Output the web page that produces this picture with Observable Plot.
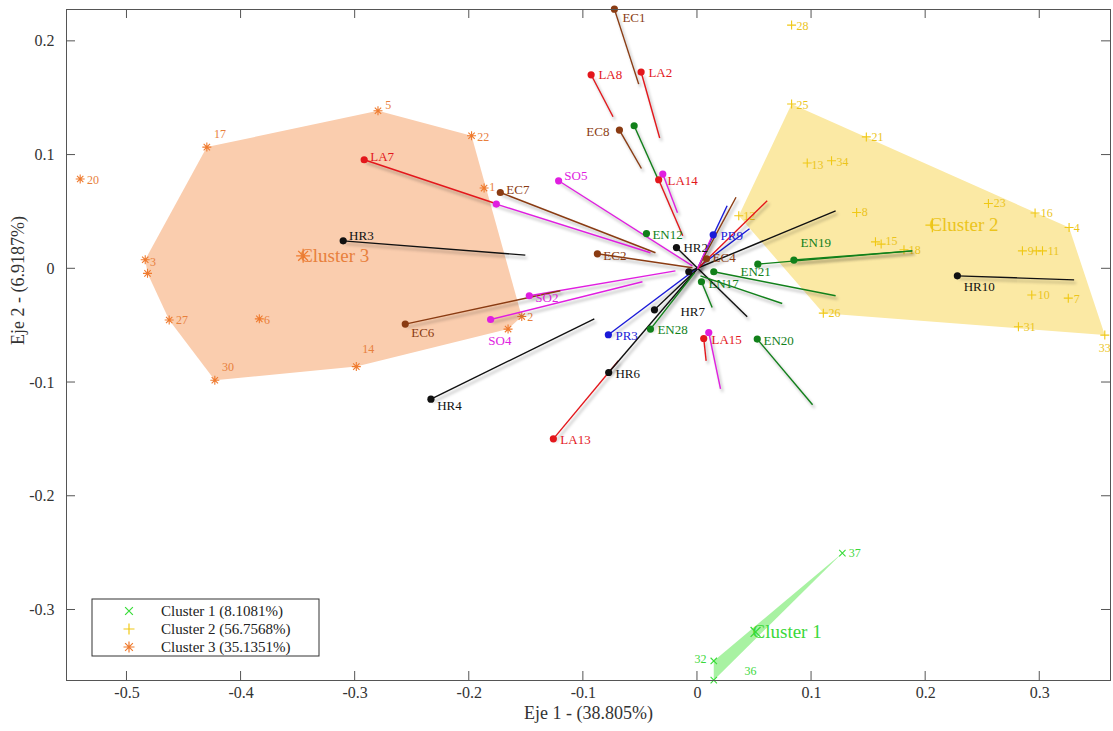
<!DOCTYPE html>
<html><head><meta charset="utf-8">
<script src="https://cdn.jsdelivr.net/npm/d3@7"></script>
<script src="https://cdn.jsdelivr.net/npm/@observablehq/plot@0.6"></script>
<style>
body{margin:0;background:#fff;}
#chart{width:1113px;height:731px;}
.vec path{filter:drop-shadow(2px 3px 1.5px rgba(0,0,0,0.32));}
</style></head><body><div id="chart"></div>
<script>
// ---------- data ----------
const xTicks = [-0.5,-0.4,-0.3,-0.2,-0.1,0,0.1,0.2,0.3];
const yTicks = [-0.3,-0.2,-0.1,0,0.1,0.2];
const xLabel = "Eje 1 - (38.805%)";
const yLabel = "Eje 2 - (6.9187%)";

const clusterNames = ["Cluster 1","Cluster 2","Cluster 3"];
const clusterShares = ["8.1081%","56.7568%","35.1351%"];

// [id, label, x, y, labelX, labelY]
const cluster1 = [
  ["37","37",0.127,-0.250,0.1325,-0.2498],
  ["32","32",0.0143,-0.3448,-0.0026,-0.343],
  ["36","36",0.0143,-0.3617,0.0412,-0.3536]
];
const cluster2 = [
  ["28","28",0.0825,0.2143,0.0868,0.2137],
  ["25","25",0.0825,0.1449,0.0868,0.1442],
  ["21","21",0.148,0.116,0.1526,0.1161],
  ["13","13",0.0962,0.093,0.1,0.0915],
  ["34","34",0.1175,0.095,0.1219,0.0941],
  ["8","8",0.1395,0.0495,0.1439,0.0501],
  ["23","23",0.255,0.0574,0.2596,0.058],
  ["16","16",0.2959,0.049,0.3009,0.0493],
  ["4","4",0.3257,0.0363,0.3298,0.0361],
  ["15","15",0.161,0.0217,0.1649,0.0246],
  ["u2a","",0.156,0.0237,null,null],
  ["18","18",0.181,0.0167,0.1851,0.0167],
  ["9","9",0.2848,0.0158,0.2895,0.0158],
  ["u2b","",0.297,0.0158,null,null],
  ["11","11",0.3024,0.0158,0.307,0.0158],
  ["10","10",0.293,-0.0231,0.2982,-0.0229],
  ["7","7",0.325,-0.0258,0.3298,-0.0264],
  ["31","31",0.2813,-0.051,0.286,-0.051],
  ["33","33",0.357,-0.0583,0.3518,-0.0695],
  ["26","26",0.1103,-0.039,0.1149,-0.0387],
  ["12","12",0.0362,0.0466,0.0404,0.0466]
];
const cluster3 = [
  ["20","20",-0.541,0.079,-0.5351,0.0783],
  ["17","17",-0.430,0.107,-0.4237,0.1187],
  ["5","5",-0.280,0.139,-0.2737,0.1442],
  ["22","22",-0.198,0.117,-0.193,0.1161],
  ["1","1",-0.187,0.071,-0.1825,0.0721],
  ["3","3",-0.484,0.008,-0.4798,0.0062],
  ["u3a","",-0.482,-0.004,null,null],
  ["27","27",-0.463,-0.045,-0.457,-0.0449],
  ["6","6",-0.384,-0.044,-0.3798,-0.0449],
  ["30","30",-0.423,-0.098,-0.4167,-0.0862],
  ["14","14",-0.299,-0.086,-0.2939,-0.0704],
  ["2","2",-0.154,-0.042,-0.1491,-0.0422],
  ["u3b","",-0.166,-0.053,null,null]
];
const hull1 = ["37","32","36"];
const hull2 = ["25","4","33","26","12"];
const hull3 = ["17","5","22","2","u3b","14","30","27","u3a","3"];
const centroids = [[0.0509,-0.3193],[0.2059,0.0384],[-0.3456,0.0114]];

// variables: [name, group, x, y, labelX, labelY]
const variables = [
  ["EC1","EC",-0.0728,0.2283,-0.0658,0.2208],
  ["LA8","LA",-0.0932,0.1706,-0.0868,0.1706],
  ["LA2","LA",-0.0494,0.173,-0.043,0.1724],
  ["EC8","EC",-0.0684,0.122,-0.0974,0.1205],
  ["","EN",-0.0555,0.1258,null,null],
  ["","SO",-0.0304,0.0833,null,null],
  ["LA14","LA",-0.034,0.0783,-0.0263,0.0774],
  ["SO5","SO",-0.1217,0.0774,-0.1167,0.0818],
  ["LA7","LA",-0.2921,0.0959,-0.2868,0.0985],
  ["EC7","EC",-0.1728,0.0671,-0.1675,0.0695],
  ["","SO",-0.1763,0.0569,null,null],
  ["HR3","HR",-0.3105,0.0246,-0.3053,0.029],
  ["EC2","EC",-0.0877,0.0132,-0.0825,0.0114],
  ["EN12","EN",-0.0447,0.031,-0.0395,0.0299],
  ["HR2","HR",-0.0184,0.0187,-0.0123,0.0185],
  ["PR9","PR",0.0138,0.0299,0.0202,0.029],
  ["EC4","EC",0.0079,0.0088,0.0132,0.0097],
  ["","HR",-0.0076,-0.0026,null,null],
  ["EN21","EN",0.0529,0.0041,0.0377,-0.0026],
  ["EN19","EN",0.0845,0.0077,0.0904,0.0229],
  ["","EN",0.0143,-0.0026,null,null],
  ["EN17","EN",0.0035,-0.0114,0.0096,-0.0132],
  ["SO2","SO",-0.1474,-0.0237,-0.1421,-0.0255],
  ["SO4","SO",-0.1813,-0.0446,-0.1833,-0.0633],
  ["EC6","EC",-0.2561,-0.0486,-0.2509,-0.0563],
  ["HR7","HR",-0.0377,-0.0361,-0.0149,-0.0378],
  ["EN28","EN",-0.0412,-0.053,-0.0351,-0.0536],
  ["PR3","PR",-0.0781,-0.058,-0.0719,-0.0589],
  ["LA15","LA",0.0055,-0.0613,0.0123,-0.0624],
  ["","SO",0.0099,-0.056,null,null],
  ["EN20","EN",0.0524,-0.0618,0.0579,-0.0633],
  ["HR6","HR",-0.0778,-0.0912,-0.0719,-0.0923],
  ["HR4","HR",-0.2336,-0.1146,-0.2281,-0.1205],
  ["LA13","LA",-0.1263,-0.1495,-0.1202,-0.1504],
  ["HR10","HR",0.2278,-0.0062,0.2333,-0.0158]
];
// segments: [group, x1, y1, x2, y2]
const segments = [
  ["EC",-0.0728,0.2283,-0.0515,0.1624],
  ["LA",-0.0932,0.1706,-0.074,0.1337],
  ["LA",-0.0494,0.173,-0.0331,0.115],
  ["EC",-0.0684,0.122,-0.0491,0.0882],
  ["EN",-0.0555,0.1258,-0.0351,0.08],
  ["LA",-0.034,0.0783,-0.0129,0.029],
  ["SO",-0.0304,0.0833,-0.0175,0.0493],
  ["SO",-0.1217,0.0774,-0.0044,0.0026],
  ["EC",-0.1728,0.0671,-0.0368,0.0141],
  ["SO",-0.1763,0.0569,-0.0412,0.0141],
  ["LA",-0.2921,0.0959,-0.1763,0.0572],
  ["HR",-0.3105,0.0246,-0.1509,0.012],
  ["EC",-0.0877,0.0132,-0.0044,0.0009],
  ["SO",-0.1474,-0.0237,-0.0193,-0.0018],
  ["SO",-0.1813,-0.0446,-0.0482,-0.0114],
  ["EC",-0.2561,-0.0486,-0.1202,-0.0193],
  ["HR",-0.2336,-0.1146,-0.0904,-0.044],
  ["LA",-0.1263,-0.1495,-0.0693,-0.0809],
  ["HR",-0.0778,-0.0912,0,0],
  ["PR",-0.0781,-0.058,0.0456,0.0352],
  ["PR",0,0,0.026,0.0554],
  ["HR",-0.0184,0.0187,0.0436,-0.0422],
  ["HR",-0.0076,-0.0026,0.1211,0.051],
  ["HR",-0.0377,-0.0361,-0.0018,-0.0018],
  ["EN",-0.0412,-0.053,-0.0026,-0.0035],
  ["EC",0,0,0.0338,0.0629],
  ["LA",0,0,0.0611,0.0598],
  ["SO",0,0,0.0129,0.029],
  ["EN",0.0529,0.0041,0.1883,0.0158],
  ["EN",0.0845,0.0077,0.1883,0.0158],
  ["EN",0.0143,-0.0026,0.1211,-0.0237],
  ["EN",0.0026,-0.0062,0.0743,-0.0305],
  ["EN",0.0035,-0.0114,0.0129,-0.034],
  ["EN",0.0524,-0.0618,0.1009,-0.1196],
  ["LA",0.0055,-0.0613,0.0076,-0.0809],
  ["SO",0.0099,-0.056,0.0202,-0.1055],
  ["HR",0.2278,-0.0062,0.3301,-0.0097]
];

// ---------- styles ----------
const groupColors = {LA:"#e3171c", EC:"#8a3b12", SO:"#e01ee0", EN:"#11801a", HR:"#111111", PR:"#1a1ad8"};
const clusterStroke = ["#38dc38","#f0c814","#ef7b2f"];
const clusterText = ["#3bd83b","#ebc41c","#e8803c"];
const clusterFill = ["#a8f2a2","#fbe9a4","#facdae"];
const FONT = "'Liberation Serif','Times New Roman',serif";

const lineSym = (angles) => ({draw(c, size){
  const r = Math.sqrt(size/Math.PI);
  for (const a of angles){ const dx=r*Math.cos(a), dy=r*Math.sin(a); c.moveTo(dx,dy); c.lineTo(-dx,-dy);}
}});
const symTimes = lineSym([Math.PI/4, -Math.PI/4]);
const symPlus = lineSym([0, Math.PI/2]);
const symStar = lineSym([0, Math.PI/4, Math.PI/2, 3*Math.PI/4]);
const symbols = [symTimes, symPlus, symStar];
const clusters = [cluster1, cluster2, cluster3];
const hulls = [hull1, hull2, hull3];

const marks = [];
// hull polygons
clusters.forEach((pts, i) => {
  const byId = new Map(pts.map(p => [p[0], p]));
  const poly = hulls[i].map(id => byId.get(id));
  marks.push(Plot.line(poly, {x: d=>d[2], y: d=>d[3], fill: clusterFill[i], stroke: "none", curve: "linear-closed"}));
});
// cluster points + labels
clusters.forEach((pts, i) => {
  marks.push(Plot.dot(pts, {x: d=>d[2], y: d=>d[3], symbol: symbols[i], r: 4.5, stroke: clusterStroke[i], fill: "none", strokeWidth: 1.1}));
  marks.push(Plot.text(pts.filter(d=>d[4]!=null), {x: d=>d[4], y: d=>d[5], text: d=>d[1], textAnchor: "start", fill: clusterText[i], fontSize: 12, fontFamily: FONT}));
});
// vector lines
marks.push(Plot.link(segments, {x1: d=>d[1], y1: d=>d[2], x2: d=>d[3], y2: d=>d[4], stroke: d=>groupColors[d[0]], strokeWidth: 1.4, className: "vec"}));
// vector dots
marks.push(Plot.dot(variables, {x: d=>d[2], y: d=>d[3], r: 3.6, fill: d=>groupColors[d[1]], stroke: "none"}));
marks.push(Plot.text(variables.filter(d=>d[4]!=null), {x: d=>d[4], y: d=>d[5], text: d=>d[0], textAnchor: "start", fill: d=>groupColors[d[1]], fontSize: 13, fontFamily: FONT}));
// centroids
centroids.forEach((c, i) => {
  marks.push(Plot.dot([c], {x: d=>d[0], y: d=>d[1], symbol: symbols[i], r: 7, stroke: clusterStroke[i], fill: "none", strokeWidth: 1.3}));
  marks.push(Plot.text([c], {x: d=>d[0], y: d=>d[1], text: () => clusterNames[i], dx: -3, textAnchor: "start", fill: clusterText[i], fontSize: 19, fontFamily: FONT}));
});
// frame & axes
marks.push(Plot.frame({stroke: "#555", strokeWidth: 1}));
marks.push(Plot.axisX({ticks: xTicks, tickSize: 0, tickPadding: 6, tickFormat: d => String(d), fontSize: 16, fill: "#333", label: null}));
marks.push(Plot.axisY({ticks: yTicks, tickSize: 0, tickPadding: 12, tickFormat: d => String(d), fontSize: 16, fill: "#333", label: null}));
marks.push(Plot.text([xLabel], {frameAnchor: "bottom", dy: 38, text: d=>d, fontSize: 18, fill: "#333", fontFamily: FONT}));
marks.push(Plot.text([yLabel], {frameAnchor: "left", dx: -48, rotate: -90, text: d=>d, fontSize: 18, fill: "#333", fontFamily: FONT}));

const plot = Plot.plot({
  width: 1113, height: 731,
  marginLeft: 66, marginRight: 3, marginTop: 9, marginBottom: 51,
  x: {domain: [-0.553, 0.362]},
  y: {domain: [-0.362, 0.228]},
  style: {fontFamily: FONT, fontSize: "14px", background: "#fff", overflow: "visible"},
  marks
});

// inward ticks on all four sides
const svg = d3.select(plot);
const sx = plot.scale("x"), sy = plot.scale("y");
const L = 66, R = 1110, T = 9, B = 680, TL = 9;
const tg = svg.append("g").attr("stroke", "#555").attr("stroke-width", 1);
xTicks.forEach(v => {
  const px = sx.apply(v);
  tg.append("line").attr("x1", px).attr("x2", px).attr("y1", B).attr("y2", B - TL);
  tg.append("line").attr("x1", px).attr("x2", px).attr("y1", T).attr("y2", T + TL);
});
yTicks.forEach(v => {
  const py = sy.apply(v);
  tg.append("line").attr("x1", L).attr("x2", L + TL).attr("y1", py).attr("y2", py);
  tg.append("line").attr("x1", R).attr("x2", R - TL).attr("y1", py).attr("y2", py);
});

// legend box
const lg = svg.append("g").attr("text-anchor", "start");
lg.append("rect").attr("x", 92).attr("y", 599).attr("width", 227).attr("height", 57).attr("fill", "#fff").attr("stroke", "#333");
const symPath = (sym, r) => d3.symbol(sym, Math.PI * r * r)();
clusterNames.forEach((n, i) => {
  const yy = 611 + i * 18;
  lg.append("path").attr("d", symPath(symbols[i], 5.5)).attr("transform", `translate(129,${yy})`).attr("fill", "none").attr("stroke", clusterStroke[i]).attr("stroke-width", 1.2);
  lg.append("text").attr("x", 161).attr("y", yy).attr("dy", "0.35em").attr("text-anchor", "start").attr("font-size", 15).attr("font-family", FONT).attr("fill", "#222").text(`${n} (${clusterShares[i]})`);
});

document.getElementById("chart").appendChild(plot);
</script></body></html>
